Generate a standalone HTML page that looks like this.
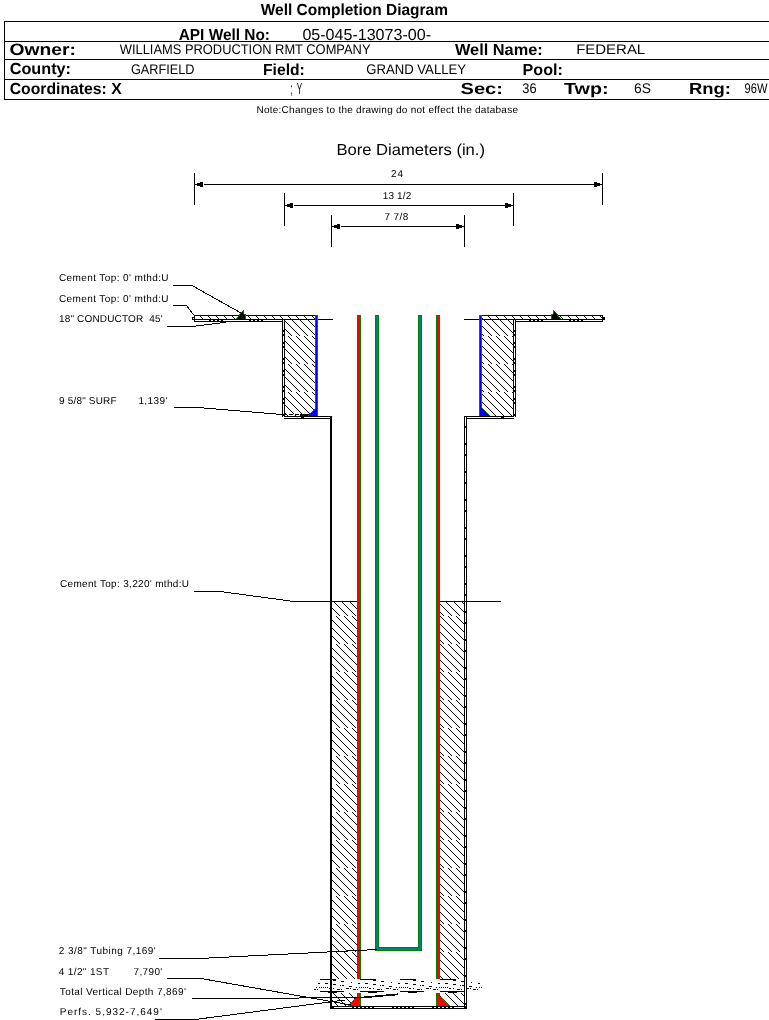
<!DOCTYPE html>
<html lang="en">
<head>
<meta charset="utf-8">
<title>Well Completion Diagram</title>
<style>
html, body { margin: 0; padding: 0; background: #fff; }
body { width: 769px; height: 1020px; overflow: hidden; }
svg { display: block; will-change: transform; font-family: "Liberation Sans", Arial, sans-serif; fill: #000; }
svg text { text-rendering: geometricPrecision; }
</style>
</head>
<body>
<svg width="769" height="1020" viewBox="0 0 769 1020" shape-rendering="crispEdges">
<defs>
<pattern id="h" patternUnits="userSpaceOnUse" x="0" y="0" width="8" height="28">
<rect width="8" height="28" fill="#fff"/>
<path d="M-32,0 l28,28 M-24,0 l28,28 M-16,0 l28,28 M-8,0 l28,28 M0,0 l28,28" stroke="#000" stroke-width="1" fill="none"/>
</pattern>
</defs>
<rect width="769" height="1020" fill="#fff"/>
<g id="header">
<rect x="4" y="21" width="765" height="1" fill="#000"/>
<rect x="4" y="41" width="765" height="1" fill="#000"/>
<rect x="4" y="59" width="765" height="1" fill="#000"/>
<rect x="4" y="79" width="765" height="1" fill="#000"/>
<rect x="4" y="99" width="765" height="1" fill="#000"/>
<rect x="4" y="21" width="1" height="79" fill="#000"/>
<text x="260.7" y="15.4" font-size="16" font-weight="bold" textLength="187.3" lengthAdjust="spacingAndGlyphs">Well Completion Diagram</text>
<text x="178.7" y="40" font-size="16" font-weight="bold" textLength="91.3" lengthAdjust="spacingAndGlyphs">API Well No:</text>
<text x="302.4" y="40" font-size="16" textLength="128.6" lengthAdjust="spacingAndGlyphs">05-045-13073-00-</text>
<text x="9.5" y="54.6" font-size="16.5" font-weight="bold" textLength="66.5" lengthAdjust="spacingAndGlyphs">Owner:</text>
<text x="119.8" y="54" font-size="14" textLength="250.7" lengthAdjust="spacingAndGlyphs">WILLIAMS PRODUCTION RMT COMPANY</text>
<text x="455" y="55" font-size="16" font-weight="bold" textLength="87.7" lengthAdjust="spacingAndGlyphs">Well Name:</text>
<text x="576.2" y="54" font-size="14" textLength="69" lengthAdjust="spacingAndGlyphs">FEDERAL</text>
<text x="9.7" y="74.1" font-size="16" font-weight="bold" textLength="61.3" lengthAdjust="spacingAndGlyphs">County:</text>
<text x="131" y="74" font-size="14" textLength="63.4" lengthAdjust="spacingAndGlyphs">GARFIELD</text>
<text x="263" y="75" font-size="16" font-weight="bold" textLength="41.8" lengthAdjust="spacingAndGlyphs">Field:</text>
<text x="366.3" y="74" font-size="14" textLength="99.7" lengthAdjust="spacingAndGlyphs">GRAND VALLEY</text>
<text x="522.6" y="75" font-size="16" font-weight="bold" textLength="40.2" lengthAdjust="spacingAndGlyphs">Pool:</text>
<text x="9.7" y="93.5" font-size="16" font-weight="bold" textLength="112" lengthAdjust="spacingAndGlyphs">Coordinates: X</text>
<text x="290.5" y="94" font-size="16" textLength="2.2" lengthAdjust="spacingAndGlyphs">;</text>
<text x="296.8" y="94" font-size="16" textLength="5.4" lengthAdjust="spacingAndGlyphs">Y</text>
<text x="460.5" y="93.6" font-size="16" font-weight="bold" textLength="42.5" lengthAdjust="spacingAndGlyphs">Sec:</text>
<text x="522.3" y="93" font-size="14" textLength="14.3" lengthAdjust="spacingAndGlyphs">36</text>
<text x="564" y="93.6" font-size="16" font-weight="bold" textLength="44.5" lengthAdjust="spacingAndGlyphs">Twp:</text>
<text x="634" y="93" font-size="14" textLength="17" lengthAdjust="spacingAndGlyphs">6S</text>
<text x="689" y="93.6" font-size="16" font-weight="bold" textLength="42" lengthAdjust="spacingAndGlyphs">Rng:</text>
<text x="744.6" y="93" font-size="14" textLength="22.8" lengthAdjust="spacingAndGlyphs">96W</text>
<text x="256.4" y="113.1" font-size="10" textLength="261.6" lengthAdjust="spacing">Note:Changes to the drawing do not effect the database</text>
</g>
<g id="bore">
<text x="336.4" y="155" font-size="16" textLength="148.6" lengthAdjust="spacingAndGlyphs">Bore Diameters (in.)</text>
<text x="391" y="177" font-size="10" textLength="12" lengthAdjust="spacing">24</text>
<text x="382.7" y="199" font-size="10" textLength="28.6" lengthAdjust="spacing">13 1/2</text>
<text x="384.4" y="220" font-size="10" textLength="24" lengthAdjust="spacing">7 7/8</text>
<rect x="194" y="173" width="1" height="32" fill="#000"/>
<rect x="602" y="173" width="1" height="32" fill="#000"/>
<rect x="194" y="184" width="3" height="1" fill="#000"/>
<rect x="197" y="183" width="3" height="3" fill="#000"/>
<rect x="200" y="182" width="3" height="5" fill="#000"/>
<rect x="204" y="184" width="389" height="1" fill="#000"/>
<rect x="594" y="182" width="3" height="5" fill="#000"/>
<rect x="597" y="183" width="3" height="3" fill="#000"/>
<rect x="593" y="184" width="10" height="1" fill="#000"/>
<rect x="284" y="193" width="1" height="33" fill="#000"/>
<rect x="513" y="193" width="1" height="33" fill="#000"/>
<rect x="284" y="205" width="3" height="1" fill="#000"/>
<rect x="287" y="204" width="3" height="3" fill="#000"/>
<rect x="290" y="203" width="3" height="5" fill="#000"/>
<rect x="294" y="205" width="210" height="1" fill="#000"/>
<rect x="505" y="203" width="3" height="5" fill="#000"/>
<rect x="508" y="204" width="3" height="3" fill="#000"/>
<rect x="504" y="205" width="10" height="1" fill="#000"/>
<rect x="331" y="215" width="1" height="32" fill="#000"/>
<rect x="464" y="215" width="1" height="32" fill="#000"/>
<rect x="331" y="226" width="3" height="1" fill="#000"/>
<rect x="334" y="225" width="3" height="3" fill="#000"/>
<rect x="337" y="224" width="3" height="5" fill="#000"/>
<rect x="341" y="226" width="114" height="1" fill="#000"/>
<rect x="456" y="224" width="3" height="5" fill="#000"/>
<rect x="459" y="225" width="3" height="3" fill="#000"/>
<rect x="455" y="226" width="10" height="1" fill="#000"/>
</g>
<g id="well">
<rect x="195" y="316" width="121" height="3" fill="url(#h)"/>
<rect x="482" y="316" width="120" height="3" fill="url(#h)"/>
<rect x="285" y="319" width="30" height="97" fill="url(#h)"/>
<rect x="482" y="319" width="31" height="97" fill="url(#h)"/>
<rect x="332" y="602" width="25" height="404" fill="url(#h)"/>
<rect x="440" y="602" width="24" height="404" fill="url(#h)"/>
<rect x="194" y="315" width="123" height="1" fill="#000"/>
<rect x="479" y="315" width="124" height="1" fill="#000"/>
<rect x="194" y="315" width="1" height="7" fill="#000"/>
<rect x="602" y="315" width="1" height="7" fill="#000"/>
<rect x="192" y="317" width="2" height="3" fill="#000"/>
<rect x="193" y="318" width="1" height="1" fill="#fff"/>
<rect x="603" y="317" width="2" height="3" fill="#000"/>
<rect x="194" y="319" width="139" height="1" fill="#000"/>
<rect x="464" y="319" width="139" height="1" fill="#000"/>
<rect x="194" y="319" width="91" height="3" fill="#000"/>
<rect x="282" y="319" width="3" height="100" fill="#000"/>
<rect x="282" y="416" width="50" height="3" fill="#000"/>
<line x1="195" y1="320.5" x2="282" y2="320.5" stroke="#fff" stroke-width="1" stroke-dasharray="26 2 2 2 2 2 2 2" stroke-dashoffset="12"/>
<rect x="283" y="320" width="1" height="97" fill="#fff"/>
<rect x="283" y="417" width="47" height="1" fill="#fff"/>
<rect x="301" y="417" width="3" height="1" fill="#000"/>
<rect x="282" y="417" width="2" height="2" fill="#fff"/>
<rect x="513" y="319" width="90" height="3" fill="#000"/>
<rect x="513" y="319" width="3" height="100" fill="#000"/>
<rect x="464" y="416" width="52" height="3" fill="#000"/>
<line x1="516" y1="320.5" x2="602" y2="320.5" stroke="#fff" stroke-width="1" stroke-dasharray="26 2 2 2 2 2 2 2" stroke-dashoffset="13"/>
<rect x="514" y="320" width="1" height="97" fill="#fff"/>
<rect x="467" y="417" width="48" height="1" fill="#fff"/>
<rect x="501" y="417" width="3" height="1" fill="#000"/>
<rect x="514" y="417" width="2" height="2" fill="#fff"/>
<rect x="283" y="330" width="1" height="2" fill="#000"/>
<rect x="514" y="330" width="1" height="2" fill="#000"/>
<rect x="283" y="334" width="1" height="2" fill="#000"/>
<rect x="514" y="334" width="1" height="2" fill="#000"/>
<rect x="283" y="342" width="1" height="2" fill="#000"/>
<rect x="514" y="342" width="1" height="2" fill="#000"/>
<rect x="283" y="346" width="1" height="2" fill="#000"/>
<rect x="514" y="346" width="1" height="2" fill="#000"/>
<rect x="283" y="358" width="1" height="2" fill="#000"/>
<rect x="514" y="358" width="1" height="2" fill="#000"/>
<rect x="283" y="362" width="1" height="2" fill="#000"/>
<rect x="514" y="362" width="1" height="2" fill="#000"/>
<rect x="283" y="370" width="1" height="2" fill="#000"/>
<rect x="514" y="370" width="1" height="2" fill="#000"/>
<rect x="283" y="374" width="1" height="2" fill="#000"/>
<rect x="514" y="374" width="1" height="2" fill="#000"/>
<rect x="283" y="386" width="1" height="2" fill="#000"/>
<rect x="514" y="386" width="1" height="2" fill="#000"/>
<rect x="283" y="390" width="1" height="2" fill="#000"/>
<rect x="514" y="390" width="1" height="2" fill="#000"/>
<rect x="283" y="398" width="1" height="2" fill="#000"/>
<rect x="514" y="398" width="1" height="2" fill="#000"/>
<rect x="283" y="402" width="1" height="2" fill="#000"/>
<rect x="514" y="402" width="1" height="2" fill="#000"/>
<rect x="283" y="414" width="1" height="2" fill="#000"/>
<rect x="514" y="414" width="1" height="2" fill="#000"/>
<rect x="330" y="416" width="2" height="593" fill="#000"/>
<rect x="464" y="416" width="3" height="593" fill="#000"/>
<rect x="465" y="417" width="1" height="589" fill="#fff"/>
<rect x="465" y="426" width="1" height="2" fill="#000"/>
<rect x="465" y="443" width="1" height="2" fill="#000"/>
<rect x="465" y="454" width="1" height="2" fill="#000"/>
<rect x="465" y="471" width="1" height="2" fill="#000"/>
<rect x="465" y="482" width="1" height="2" fill="#000"/>
<rect x="465" y="499" width="1" height="2" fill="#000"/>
<rect x="465" y="510" width="1" height="2" fill="#000"/>
<rect x="465" y="527" width="1" height="2" fill="#000"/>
<rect x="465" y="538" width="1" height="2" fill="#000"/>
<rect x="465" y="555" width="1" height="2" fill="#000"/>
<rect x="465" y="566" width="1" height="2" fill="#000"/>
<rect x="465" y="583" width="1" height="2" fill="#000"/>
<rect x="465" y="594" width="1" height="2" fill="#000"/>
<rect x="465" y="611" width="1" height="2" fill="#000"/>
<rect x="465" y="622" width="1" height="2" fill="#000"/>
<rect x="465" y="639" width="1" height="2" fill="#000"/>
<rect x="465" y="650" width="1" height="2" fill="#000"/>
<rect x="465" y="667" width="1" height="2" fill="#000"/>
<rect x="465" y="678" width="1" height="2" fill="#000"/>
<rect x="465" y="695" width="1" height="2" fill="#000"/>
<rect x="465" y="706" width="1" height="2" fill="#000"/>
<rect x="465" y="723" width="1" height="2" fill="#000"/>
<rect x="465" y="734" width="1" height="2" fill="#000"/>
<rect x="465" y="751" width="1" height="2" fill="#000"/>
<rect x="465" y="762" width="1" height="2" fill="#000"/>
<rect x="465" y="779" width="1" height="2" fill="#000"/>
<rect x="465" y="790" width="1" height="2" fill="#000"/>
<rect x="465" y="807" width="1" height="2" fill="#000"/>
<rect x="465" y="818" width="1" height="2" fill="#000"/>
<rect x="465" y="835" width="1" height="2" fill="#000"/>
<rect x="465" y="846" width="1" height="2" fill="#000"/>
<rect x="465" y="863" width="1" height="2" fill="#000"/>
<rect x="465" y="874" width="1" height="2" fill="#000"/>
<rect x="465" y="891" width="1" height="2" fill="#000"/>
<rect x="465" y="902" width="1" height="2" fill="#000"/>
<rect x="465" y="919" width="1" height="2" fill="#000"/>
<rect x="465" y="930" width="1" height="2" fill="#000"/>
<rect x="465" y="947" width="1" height="2" fill="#000"/>
<rect x="465" y="958" width="1" height="2" fill="#000"/>
<rect x="465" y="975" width="1" height="2" fill="#000"/>
<rect x="465" y="986" width="1" height="2" fill="#000"/>
<rect x="465" y="1003" width="1" height="2" fill="#000"/>
<rect x="330" y="1006" width="137" height="3" fill="#000"/>
<line x1="332" y1="1007.5" x2="464" y2="1007.5" stroke="#fff" stroke-width="1" stroke-dasharray="18 2 2 2 2 2 2 2 2 2 2 2" stroke-dashoffset="38"/>
<rect x="294" y="601" width="64" height="1" fill="#000"/>
<rect x="440" y="601" width="61" height="1" fill="#000"/>
<rect x="315" y="315" width="3" height="101" fill="#008000"/>
<rect x="316" y="316" width="1" height="100" fill="#0000ff"/>
<rect x="479" y="315" width="3" height="101" fill="#008000"/>
<rect x="480" y="316" width="1" height="100" fill="#0000ff"/>
<rect x="285" y="414" width="15" height="1" fill="#000"/>
<line x1="285" y1="414.5" x2="300" y2="414.5" stroke="#fff" stroke-width="1" stroke-dasharray="2 4" stroke-dashoffset="-2"/>
<rect x="300" y="414" width="10" height="2" fill="#000"/>
<rect x="316" y="408" width="1" height="1" fill="#0000ff"/>
<rect x="315" y="408" width="1" height="1" fill="#008000"/>
<rect x="315" y="409" width="2" height="1" fill="#0000ff"/>
<rect x="314" y="409" width="1" height="1" fill="#008000"/>
<rect x="314" y="410" width="3" height="1" fill="#0000ff"/>
<rect x="313" y="410" width="1" height="1" fill="#008000"/>
<rect x="313" y="411" width="4" height="1" fill="#0000ff"/>
<rect x="312" y="411" width="1" height="1" fill="#008000"/>
<rect x="312" y="412" width="5" height="1" fill="#0000ff"/>
<rect x="311" y="412" width="1" height="1" fill="#008000"/>
<rect x="311" y="413" width="6" height="1" fill="#0000ff"/>
<rect x="310" y="413" width="1" height="1" fill="#008000"/>
<rect x="310" y="414" width="7" height="1" fill="#0000ff"/>
<rect x="309" y="414" width="1" height="1" fill="#008000"/>
<rect x="309" y="415" width="8" height="1" fill="#0000ff"/>
<rect x="308" y="415" width="1" height="1" fill="#008000"/>
<rect x="481" y="408" width="1" height="1" fill="#0000ff"/>
<rect x="482" y="408" width="1" height="1" fill="#008000"/>
<rect x="481" y="409" width="2" height="1" fill="#0000ff"/>
<rect x="483" y="409" width="1" height="1" fill="#008000"/>
<rect x="481" y="410" width="3" height="1" fill="#0000ff"/>
<rect x="484" y="410" width="1" height="1" fill="#008000"/>
<rect x="481" y="411" width="4" height="1" fill="#0000ff"/>
<rect x="485" y="411" width="1" height="1" fill="#008000"/>
<rect x="481" y="412" width="5" height="1" fill="#0000ff"/>
<rect x="486" y="412" width="1" height="1" fill="#008000"/>
<rect x="481" y="413" width="6" height="1" fill="#0000ff"/>
<rect x="487" y="413" width="1" height="1" fill="#008000"/>
<rect x="481" y="414" width="7" height="1" fill="#0000ff"/>
<rect x="488" y="414" width="1" height="1" fill="#008000"/>
<rect x="481" y="415" width="8" height="1" fill="#0000ff"/>
<rect x="489" y="415" width="1" height="1" fill="#008000"/>
<rect x="480" y="408" width="2" height="8" fill="#0000ff"/>
<rect x="357" y="315" width="4" height="691" fill="#008000"/>
<rect x="358" y="316" width="2" height="690" fill="#ff0000"/>
<rect x="436" y="315" width="4" height="691" fill="#008000"/>
<rect x="437" y="316" width="2" height="690" fill="#ff0000"/>
<rect x="375" y="315" width="4" height="636" fill="#008000"/>
<rect x="376" y="316" width="2" height="634" fill="#008080"/>
<rect x="418" y="315" width="4" height="636" fill="#008000"/>
<rect x="419" y="316" width="2" height="634" fill="#008080"/>
<rect x="375" y="947" width="47" height="4" fill="#008000"/>
<rect x="376" y="948" width="45" height="2" fill="#008080"/>
<rect x="376" y="940" width="2" height="9" fill="#008080"/>
<rect x="419" y="940" width="2" height="9" fill="#008080"/>
<rect x="356" y="998" width="1" height="1" fill="#ff0000"/>
<rect x="355" y="998" width="1" height="1" fill="#008000"/>
<rect x="355" y="999" width="2" height="1" fill="#ff0000"/>
<rect x="354" y="999" width="1" height="1" fill="#008000"/>
<rect x="354" y="1000" width="3" height="1" fill="#ff0000"/>
<rect x="353" y="1000" width="1" height="1" fill="#008000"/>
<rect x="353" y="1001" width="4" height="1" fill="#ff0000"/>
<rect x="352" y="1001" width="1" height="1" fill="#008000"/>
<rect x="352" y="1002" width="5" height="1" fill="#ff0000"/>
<rect x="351" y="1002" width="1" height="1" fill="#008000"/>
<rect x="351" y="1003" width="6" height="1" fill="#ff0000"/>
<rect x="350" y="1003" width="1" height="1" fill="#008000"/>
<rect x="350" y="1004" width="7" height="1" fill="#ff0000"/>
<rect x="349" y="1004" width="1" height="1" fill="#008000"/>
<rect x="349" y="1005" width="8" height="1" fill="#ff0000"/>
<rect x="348" y="1005" width="1" height="1" fill="#008000"/>
<rect x="440" y="997" width="1" height="1" fill="#ff0000"/>
<rect x="441" y="997" width="1" height="1" fill="#008000"/>
<rect x="440" y="998" width="2" height="1" fill="#ff0000"/>
<rect x="442" y="998" width="1" height="1" fill="#008000"/>
<rect x="440" y="999" width="3" height="1" fill="#ff0000"/>
<rect x="443" y="999" width="1" height="1" fill="#008000"/>
<rect x="440" y="1000" width="4" height="1" fill="#ff0000"/>
<rect x="444" y="1000" width="1" height="1" fill="#008000"/>
<rect x="440" y="1001" width="5" height="1" fill="#ff0000"/>
<rect x="445" y="1001" width="1" height="1" fill="#008000"/>
<rect x="440" y="1002" width="6" height="1" fill="#ff0000"/>
<rect x="446" y="1002" width="1" height="1" fill="#008000"/>
<rect x="440" y="1003" width="7" height="1" fill="#ff0000"/>
<rect x="447" y="1003" width="1" height="1" fill="#008000"/>
<rect x="440" y="1004" width="8" height="1" fill="#ff0000"/>
<rect x="448" y="1004" width="1" height="1" fill="#008000"/>
<rect x="440" y="1005" width="9" height="1" fill="#ff0000"/>
<rect x="449" y="1005" width="1" height="1" fill="#008000"/>
<rect x="357" y="999" width="1" height="7" fill="#ff0000"/>
<rect x="439" y="997" width="1" height="9" fill="#ff0000"/>
<rect x="243" y="310" width="1" height="1" fill="#008000"/>
<rect x="242" y="311" width="1" height="1" fill="#008000"/>
<rect x="243" y="311" width="1" height="1" fill="#008000"/>
<rect x="241" y="312" width="1" height="1" fill="#008000"/>
<rect x="242" y="312" width="1" height="1" fill="#000"/>
<rect x="243" y="312" width="1" height="1" fill="#008000"/>
<rect x="240" y="313" width="1" height="1" fill="#008000"/>
<rect x="241" y="313" width="1" height="1" fill="#000"/>
<rect x="242" y="313" width="1" height="1" fill="#000"/>
<rect x="243" y="313" width="1" height="1" fill="#008000"/>
<rect x="239" y="314" width="1" height="1" fill="#008000"/>
<rect x="240" y="314" width="1" height="1" fill="#000"/>
<rect x="241" y="314" width="1" height="1" fill="#000"/>
<rect x="242" y="314" width="1" height="1" fill="#000"/>
<rect x="243" y="314" width="1" height="1" fill="#000"/>
<rect x="244" y="314" width="1" height="1" fill="#008000"/>
<rect x="245" y="314" width="1" height="1" fill="#008000"/>
<rect x="239" y="315" width="1" height="1" fill="#008000"/>
<rect x="240" y="315" width="1" height="1" fill="#000"/>
<rect x="241" y="315" width="1" height="1" fill="#000"/>
<rect x="242" y="315" width="1" height="1" fill="#000"/>
<rect x="243" y="315" width="1" height="1" fill="#000"/>
<rect x="244" y="315" width="1" height="1" fill="#000"/>
<rect x="245" y="315" width="1" height="1" fill="#008000"/>
<rect x="238" y="316" width="1" height="1" fill="#008000"/>
<rect x="239" y="316" width="1" height="1" fill="#000"/>
<rect x="240" y="316" width="1" height="1" fill="#000"/>
<rect x="241" y="316" width="1" height="1" fill="#000"/>
<rect x="242" y="316" width="1" height="1" fill="#000"/>
<rect x="243" y="316" width="1" height="1" fill="#000"/>
<rect x="244" y="316" width="1" height="1" fill="#000"/>
<rect x="245" y="316" width="1" height="1" fill="#008000"/>
<rect x="237" y="317" width="1" height="1" fill="#008000"/>
<rect x="238" y="317" width="1" height="1" fill="#000"/>
<rect x="239" y="317" width="1" height="1" fill="#000"/>
<rect x="240" y="317" width="1" height="1" fill="#000"/>
<rect x="241" y="317" width="1" height="1" fill="#000"/>
<rect x="242" y="317" width="1" height="1" fill="#000"/>
<rect x="243" y="317" width="1" height="1" fill="#000"/>
<rect x="244" y="317" width="1" height="1" fill="#000"/>
<rect x="245" y="317" width="1" height="1" fill="#008000"/>
<rect x="236" y="318" width="1" height="1" fill="#008000"/>
<rect x="237" y="318" width="1" height="1" fill="#000"/>
<rect x="238" y="318" width="1" height="1" fill="#000"/>
<rect x="239" y="318" width="1" height="1" fill="#000"/>
<rect x="240" y="318" width="1" height="1" fill="#000"/>
<rect x="241" y="318" width="1" height="1" fill="#000"/>
<rect x="242" y="318" width="1" height="1" fill="#000"/>
<rect x="243" y="318" width="1" height="1" fill="#000"/>
<rect x="244" y="318" width="1" height="1" fill="#000"/>
<rect x="245" y="318" width="1" height="1" fill="#008000"/>
<rect x="553" y="310" width="1" height="1" fill="#008000"/>
<rect x="554" y="311" width="1" height="1" fill="#008000"/>
<rect x="553" y="311" width="1" height="1" fill="#008000"/>
<rect x="555" y="312" width="1" height="1" fill="#008000"/>
<rect x="554" y="312" width="1" height="1" fill="#000"/>
<rect x="553" y="312" width="1" height="1" fill="#008000"/>
<rect x="556" y="313" width="1" height="1" fill="#008000"/>
<rect x="555" y="313" width="1" height="1" fill="#000"/>
<rect x="554" y="313" width="1" height="1" fill="#000"/>
<rect x="553" y="313" width="1" height="1" fill="#008000"/>
<rect x="557" y="314" width="1" height="1" fill="#008000"/>
<rect x="556" y="314" width="1" height="1" fill="#000"/>
<rect x="555" y="314" width="1" height="1" fill="#000"/>
<rect x="554" y="314" width="1" height="1" fill="#000"/>
<rect x="553" y="314" width="1" height="1" fill="#000"/>
<rect x="552" y="314" width="1" height="1" fill="#008000"/>
<rect x="551" y="314" width="1" height="1" fill="#008000"/>
<rect x="557" y="315" width="1" height="1" fill="#008000"/>
<rect x="556" y="315" width="1" height="1" fill="#000"/>
<rect x="555" y="315" width="1" height="1" fill="#000"/>
<rect x="554" y="315" width="1" height="1" fill="#000"/>
<rect x="553" y="315" width="1" height="1" fill="#000"/>
<rect x="552" y="315" width="1" height="1" fill="#000"/>
<rect x="551" y="315" width="1" height="1" fill="#008000"/>
<rect x="558" y="316" width="1" height="1" fill="#008000"/>
<rect x="557" y="316" width="1" height="1" fill="#000"/>
<rect x="556" y="316" width="1" height="1" fill="#000"/>
<rect x="555" y="316" width="1" height="1" fill="#000"/>
<rect x="554" y="316" width="1" height="1" fill="#000"/>
<rect x="553" y="316" width="1" height="1" fill="#000"/>
<rect x="552" y="316" width="1" height="1" fill="#000"/>
<rect x="551" y="316" width="1" height="1" fill="#008000"/>
<rect x="559" y="317" width="1" height="1" fill="#008000"/>
<rect x="558" y="317" width="1" height="1" fill="#000"/>
<rect x="557" y="317" width="1" height="1" fill="#000"/>
<rect x="556" y="317" width="1" height="1" fill="#000"/>
<rect x="555" y="317" width="1" height="1" fill="#000"/>
<rect x="554" y="317" width="1" height="1" fill="#000"/>
<rect x="553" y="317" width="1" height="1" fill="#000"/>
<rect x="552" y="317" width="1" height="1" fill="#000"/>
<rect x="551" y="317" width="1" height="1" fill="#008000"/>
<rect x="560" y="318" width="1" height="1" fill="#008000"/>
<rect x="559" y="318" width="1" height="1" fill="#000"/>
<rect x="558" y="318" width="1" height="1" fill="#000"/>
<rect x="557" y="318" width="1" height="1" fill="#000"/>
<rect x="556" y="318" width="1" height="1" fill="#000"/>
<rect x="555" y="318" width="1" height="1" fill="#000"/>
<rect x="554" y="318" width="1" height="1" fill="#000"/>
<rect x="553" y="318" width="1" height="1" fill="#000"/>
<rect x="552" y="318" width="1" height="1" fill="#000"/>
<rect x="551" y="318" width="1" height="1" fill="#008000"/>
<rect x="313" y="979" width="170" height="14" fill="#fff"/>
<rect x="318" y="983" width="2" height="1" fill="#000"/>
<rect x="316" y="987" width="1" height="1" fill="#000"/>
<rect x="319" y="987" width="1" height="1" fill="#000"/>
<rect x="314" y="989" width="2" height="1" fill="#000"/>
<rect x="317" y="989" width="1" height="1" fill="#000"/>
<rect x="320" y="979" width="16" height="1" fill="#000"/>
<rect x="333" y="980" width="3" height="1" fill="#000"/>
<rect x="341" y="981" width="3" height="1" fill="#000"/>
<rect x="351" y="982" width="1" height="1" fill="#000"/>
<rect x="325" y="983" width="3" height="1" fill="#000"/>
<rect x="358" y="983" width="2" height="1" fill="#000"/>
<rect x="333" y="984" width="3" height="1" fill="#000"/>
<rect x="340" y="985" width="1" height="1" fill="#000"/>
<rect x="342" y="985" width="2" height="1" fill="#000"/>
<rect x="349" y="986" width="3" height="1" fill="#000"/>
<rect x="321" y="987" width="1" height="1" fill="#000"/>
<rect x="323" y="987" width="1" height="1" fill="#000"/>
<rect x="325" y="987" width="1" height="1" fill="#000"/>
<rect x="327" y="987" width="1" height="1" fill="#000"/>
<rect x="356" y="987" width="1" height="1" fill="#000"/>
<rect x="359" y="987" width="1" height="1" fill="#000"/>
<rect x="329" y="988" width="2" height="1" fill="#000"/>
<rect x="333" y="988" width="1" height="1" fill="#000"/>
<rect x="346" y="988" width="3" height="1" fill="#000"/>
<rect x="350" y="988" width="1" height="1" fill="#000"/>
<rect x="337" y="989" width="3" height="1" fill="#000"/>
<rect x="341" y="989" width="1" height="1" fill="#000"/>
<rect x="353" y="989" width="3" height="1" fill="#000"/>
<rect x="357" y="989" width="1" height="1" fill="#000"/>
<rect x="320" y="991" width="24" height="1" fill="#000"/>
<rect x="328" y="992" width="9" height="1" fill="#000"/>
<rect x="360" y="979" width="16" height="1" fill="#000"/>
<rect x="373" y="980" width="3" height="1" fill="#000"/>
<rect x="381" y="981" width="3" height="1" fill="#000"/>
<rect x="391" y="982" width="1" height="1" fill="#000"/>
<rect x="365" y="983" width="3" height="1" fill="#000"/>
<rect x="398" y="983" width="2" height="1" fill="#000"/>
<rect x="373" y="984" width="3" height="1" fill="#000"/>
<rect x="380" y="985" width="1" height="1" fill="#000"/>
<rect x="382" y="985" width="2" height="1" fill="#000"/>
<rect x="389" y="986" width="3" height="1" fill="#000"/>
<rect x="361" y="987" width="1" height="1" fill="#000"/>
<rect x="363" y="987" width="1" height="1" fill="#000"/>
<rect x="365" y="987" width="1" height="1" fill="#000"/>
<rect x="367" y="987" width="1" height="1" fill="#000"/>
<rect x="396" y="987" width="1" height="1" fill="#000"/>
<rect x="399" y="987" width="1" height="1" fill="#000"/>
<rect x="369" y="988" width="2" height="1" fill="#000"/>
<rect x="373" y="988" width="1" height="1" fill="#000"/>
<rect x="386" y="988" width="3" height="1" fill="#000"/>
<rect x="390" y="988" width="1" height="1" fill="#000"/>
<rect x="377" y="989" width="3" height="1" fill="#000"/>
<rect x="381" y="989" width="1" height="1" fill="#000"/>
<rect x="393" y="989" width="3" height="1" fill="#000"/>
<rect x="397" y="989" width="1" height="1" fill="#000"/>
<rect x="360" y="991" width="24" height="1" fill="#000"/>
<rect x="368" y="992" width="9" height="1" fill="#000"/>
<rect x="400" y="979" width="16" height="1" fill="#000"/>
<rect x="413" y="980" width="3" height="1" fill="#000"/>
<rect x="421" y="981" width="3" height="1" fill="#000"/>
<rect x="431" y="982" width="1" height="1" fill="#000"/>
<rect x="405" y="983" width="3" height="1" fill="#000"/>
<rect x="438" y="983" width="2" height="1" fill="#000"/>
<rect x="413" y="984" width="3" height="1" fill="#000"/>
<rect x="420" y="985" width="1" height="1" fill="#000"/>
<rect x="422" y="985" width="2" height="1" fill="#000"/>
<rect x="429" y="986" width="3" height="1" fill="#000"/>
<rect x="401" y="987" width="1" height="1" fill="#000"/>
<rect x="403" y="987" width="1" height="1" fill="#000"/>
<rect x="405" y="987" width="1" height="1" fill="#000"/>
<rect x="407" y="987" width="1" height="1" fill="#000"/>
<rect x="436" y="987" width="1" height="1" fill="#000"/>
<rect x="439" y="987" width="1" height="1" fill="#000"/>
<rect x="409" y="988" width="2" height="1" fill="#000"/>
<rect x="413" y="988" width="1" height="1" fill="#000"/>
<rect x="426" y="988" width="3" height="1" fill="#000"/>
<rect x="430" y="988" width="1" height="1" fill="#000"/>
<rect x="417" y="989" width="3" height="1" fill="#000"/>
<rect x="421" y="989" width="1" height="1" fill="#000"/>
<rect x="433" y="989" width="3" height="1" fill="#000"/>
<rect x="437" y="989" width="1" height="1" fill="#000"/>
<rect x="400" y="991" width="24" height="1" fill="#000"/>
<rect x="408" y="992" width="9" height="1" fill="#000"/>
<rect x="440" y="979" width="16" height="1" fill="#000"/>
<rect x="453" y="980" width="3" height="1" fill="#000"/>
<rect x="461" y="981" width="3" height="1" fill="#000"/>
<rect x="471" y="982" width="1" height="1" fill="#000"/>
<rect x="445" y="983" width="3" height="1" fill="#000"/>
<rect x="478" y="983" width="2" height="1" fill="#000"/>
<rect x="453" y="984" width="3" height="1" fill="#000"/>
<rect x="460" y="985" width="1" height="1" fill="#000"/>
<rect x="462" y="985" width="2" height="1" fill="#000"/>
<rect x="469" y="986" width="3" height="1" fill="#000"/>
<rect x="441" y="987" width="1" height="1" fill="#000"/>
<rect x="443" y="987" width="1" height="1" fill="#000"/>
<rect x="445" y="987" width="1" height="1" fill="#000"/>
<rect x="447" y="987" width="1" height="1" fill="#000"/>
<rect x="476" y="987" width="1" height="1" fill="#000"/>
<rect x="479" y="987" width="1" height="1" fill="#000"/>
<rect x="449" y="988" width="2" height="1" fill="#000"/>
<rect x="453" y="988" width="1" height="1" fill="#000"/>
<rect x="466" y="988" width="3" height="1" fill="#000"/>
<rect x="470" y="988" width="1" height="1" fill="#000"/>
<rect x="457" y="989" width="3" height="1" fill="#000"/>
<rect x="461" y="989" width="1" height="1" fill="#000"/>
<rect x="473" y="989" width="3" height="1" fill="#000"/>
<rect x="477" y="989" width="1" height="1" fill="#000"/>
<rect x="440" y="991" width="24" height="1" fill="#000"/>
<rect x="448" y="992" width="9" height="1" fill="#000"/>
<rect x="481" y="987" width="1" height="1" fill="#000"/>
<rect x="330" y="979" width="2" height="15" fill="#000"/>
<rect x="464" y="979" width="1" height="14" fill="#000"/>
<rect x="466" y="979" width="1" height="14" fill="#000"/>
<polyline points="173,285.5 192,285.5 241,313" fill="none" stroke="#000" stroke-width="1"/>
<polyline points="173,305.5 186.5,305.5 193.5,315" fill="none" stroke="#000" stroke-width="1"/>
<polyline points="167,326.5 192,326.5 226,322.2" fill="none" stroke="#000" stroke-width="1"/>
<polyline points="174,407.5 198,407.5 282,414.5" fill="none" stroke="#000" stroke-width="1"/>
<polyline points="194,591.5 220,591.5 294,601.5" fill="none" stroke="#000" stroke-width="1"/>
<polyline points="159,958.5 199,958.5 377,949.5" fill="none" stroke="#000" stroke-width="1"/>
<polyline points="167,978.5 201,978.5 351,1005" fill="none" stroke="#000" stroke-width="1"/>
<polyline points="192,998.5 250,998.5 360,997.4 398,993.9" fill="none" stroke="#000" stroke-width="1"/>
<line x1="362" y1="997.9" x2="398" y2="994.7" stroke="#000" stroke-width="1"/>
<polyline points="155,1019.5 195,1019.5 345,1000" fill="none" stroke="#000" stroke-width="1"/>
</g>
<g id="labels">
<text x="59" y="281" font-size="10" textLength="109.6" lengthAdjust="spacing">Cement Top: 0' mthd:U</text>
<text x="59" y="302.2" font-size="10" textLength="109.6" lengthAdjust="spacing">Cement Top: 0' mthd:U</text>
<text x="59" y="322" font-size="10" textLength="103.6" lengthAdjust="spacing" xml:space="preserve">18&quot; CONDUCTOR  45'</text>
<text x="59" y="403.9" font-size="10" textLength="57.6" lengthAdjust="spacing">9 5/8&quot; SURF</text>
<text x="138.4" y="403.9" font-size="10" textLength="29" lengthAdjust="spacing">1,139'</text>
<text x="60" y="586.8" font-size="10" textLength="129" lengthAdjust="spacing">Cement Top: 3,220' mthd:U</text>
<text x="58.7" y="953.9" font-size="10" textLength="97" lengthAdjust="spacing">2 3/8&quot; Tubing 7,169'</text>
<text x="58.7" y="975.3" font-size="10" textLength="50.3" lengthAdjust="spacing">4 1/2&quot; 1ST</text>
<text x="133.6" y="975.3" font-size="10" textLength="28.6" lengthAdjust="spacing">7,790'</text>
<text x="59.8" y="995.3" font-size="10" textLength="126" lengthAdjust="spacing">Total Vertical Depth 7,869'</text>
<text x="59.8" y="1015.1" font-size="10" textLength="102" lengthAdjust="spacing">Perfs. 5,932-7,649'</text>
</g>
</svg>
</body>
</html>
